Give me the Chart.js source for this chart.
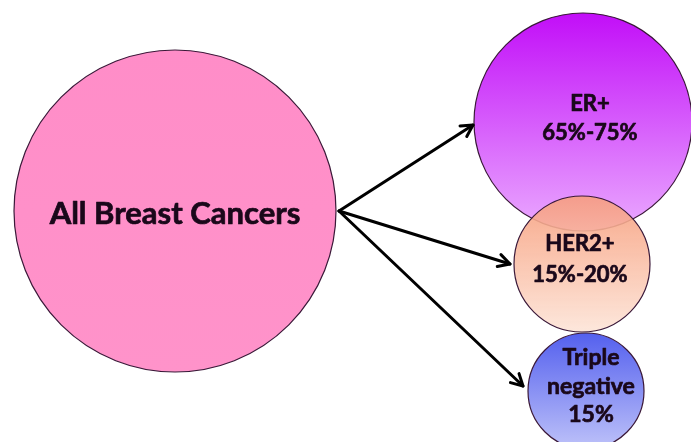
<!DOCTYPE html>
<html>
<head>
<meta charset="utf-8">
<script src="https://cdn.jsdelivr.net/npm/chart.js@4"></script>
<style>
html,body{margin:0;padding:0;background:#ffffff;}
#wrap{width:691px;height:442px;}
</style>
</head>
<body>
<div id="wrap"><canvas id="c" width="691" height="442"></canvas></div>
<script>
// ---- data ----
const categories = ["All Breast Cancers", "ER+", "HER2+", "Triple negative"];
const labelLines = [["All Breast Cancers"], ["ER+", "65%-75%"], ["HER2+", "15%-20%"], ["Triple", "negative", "15%"]];
const circleX = [175, 583, 582, 586];
const circleY = [211, 122, 264, 391];
const circleR = [161, 109, 68, 58];
const labelX = [175, 590, 580, 591];
const labelY = [[214], [104, 133], [244, 275], [358, 387, 415]];
const labelSize = [31, 22, 22, 23];
const arrowFrom = [[339, 211], [339, 211], [339, 211]];
const arrowTo = [[473, 125], [510, 264], [523, 386]];

const gradStops = [
  ["#ff8dc8", "#ff93ca"],
  ["#c20ef8", "#eaa9ff"],
  ["rgba(247,158,124,0.88)", "rgba(253,230,218,0.95)"],
  ["#5460ee", "#bec2f9"]
];

const overlayPlugin = {
  id: "overlay",
  afterDatasetsDraw(chart) {
    const ctx = chart.ctx;
    const xs = chart.scales.x, ys = chart.scales.y;
    ctx.save();
    // arrows
    ctx.strokeStyle = "#000";
    ctx.lineWidth = 3;
    ctx.lineCap = "round";
    ctx.lineJoin = "round";
    for (let i = 0; i < arrowTo.length; i++) {
      const x1 = xs.getPixelForValue(arrowFrom[i][0]), y1 = ys.getPixelForValue(arrowFrom[i][1]);
      const x2 = xs.getPixelForValue(arrowTo[i][0]), y2 = ys.getPixelForValue(arrowTo[i][1]);
      const a = Math.atan2(y2 - y1, x2 - x1);
      ctx.beginPath();
      ctx.moveTo(x1, y1);
      ctx.lineTo(x2, y2);
      ctx.stroke();
      const L = 13, w = 0.5;
      ctx.beginPath();
      ctx.moveTo(x2 - L * Math.cos(a - w), y2 - L * Math.sin(a - w));
      ctx.lineTo(x2, y2);
      ctx.lineTo(x2 - L * Math.cos(a + w), y2 - L * Math.sin(a + w));
      ctx.stroke();
    }
    // labels
    ctx.fillStyle = "#1a081a";
    ctx.strokeStyle = "#1a081a";
    ctx.lineWidth = 0.7;
    ctx.textAlign = "center";
    ctx.textBaseline = "middle";
    for (let i = 0; i < labelLines.length; i++) {
      ctx.font = "bold " + labelSize[i] + "px Lato";
      labelLines[i].forEach((t, j) => {
        const px = xs.getPixelForValue(labelX[i]), py = ys.getPixelForValue(labelY[i][j]);
        ctx.fillText(t, px, py);
        ctx.strokeText(t, px, py);
      });
    }
    ctx.restore();
  }
};

new Chart(document.getElementById("c"), {
  type: "bubble",
  data: {
    labels: categories,
    datasets: [{
      label: "Subtypes",
      data: categories.map((c, i) => ({ x: circleX[i], y: circleY[i], r: circleR[i] })),
      backgroundColor: function (c) {
        const chart = c.chart;
        if (!chart.chartArea || c.dataIndex === undefined) return gradStops[0][0];
        const i = c.dataIndex;
        const cy = chart.scales.y.getPixelForValue(circleY[i]);
        const r = circleR[i];
        const g = chart.ctx.createLinearGradient(0, cy - r, 0, cy + r);
        g.addColorStop(0, gradStops[i][0]);
        g.addColorStop(1, gradStops[i][1]);
        return g;
      },
      borderColor: "#3a1838",
      borderWidth: 1.2,
      hoverBorderWidth: 1.2,
      hoverRadius: 0,
      clip: false
    }]
  },
  options: {
    responsive: false,
    animation: false,
    events: [],
    layout: { padding: 0, autoPadding: false },
    plugins: { legend: { display: false }, tooltip: { enabled: false } },
    scales: {
      x: { type: "linear", min: 0, max: 691, display: false },
      y: { type: "linear", min: 0, max: 442, reverse: true, display: false }
    }
  },
  plugins: [overlayPlugin]
});
</script>
</body>
</html>
